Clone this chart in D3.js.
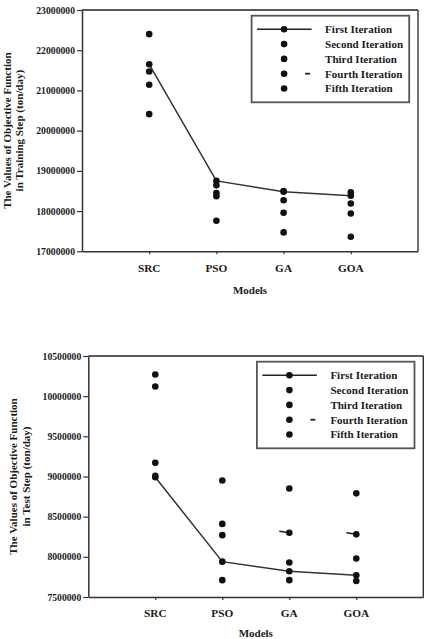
<!DOCTYPE html>
<html>
<head>
<meta charset="utf-8">
<script src="https://cdn.jsdelivr.net/npm/d3@7"></script>
<style>
  html, body { margin: 0; padding: 0; background: #fff; }
  svg { display: block; }
  text { font-family: "Liberation Serif", "Times New Roman", serif; font-weight: bold; fill: #1a1a1a; }
</style>
</head>
<body>
<svg id="chart" width="431" height="639"></svg>
<script>
// ---------- data ----------
const categories = ["SRC", "PSO", "GA", "GOA"];
const iterationNames = ["First Iteration", "Second Iteration", "Third Iteration", "Fourth Iteration", "Fifth Iteration"];

// Training step
const trainFirst  = [21650000, 18750000, 18480000, 18380000];
const trainSecond = [22400000, 18640000, 18500000, 18470000];
const trainThird  = [21470000, 18450000, 18270000, 18190000];
const trainFourth = [21140000, 18370000, 17960000, 17940000];
const trainFifth  = [20410000, 17760000, 17470000, 17360000];
const trainTicks  = [17000000, 18000000, 19000000, 20000000, 21000000, 22000000, 23000000];
const trainFourthDash = [false, false, false, false];

// Test step
const testFirst  = [8990000, 7940000, 7820000, 7770000];
const testSecond = [10270000, 8950000, 8850000, 8790000];
const testThird  = [10120000, 8410000, 7930000, 7980000];
const testFourth = [9170000, 8270000, 8300000, 8280000];
const testFifth  = [9010000, 7710000, 7710000, 7700000];
const testTicks  = [7500000, 8000000, 8500000, 9000000, 9500000, 10000000, 10500000];
const testFourthDash = [false, false, true, true];

const svg = d3.select("#chart");

function drawChart(cfg) {
  const { left, right, top, bottom, series, ticks, titleLines, titleX, fourthDash, catY, modelsY } = cfg;
  const g = svg.append("g");

  const x = d3.scalePoint().domain(categories).range([left, right]).padding(1);
  const y = d3.scaleLinear().domain([ticks[0], ticks[ticks.length - 1]]).range([bottom, top]);

  // frame top & right
  g.append("line").attr("x1", left).attr("x2", right).attr("y1", top).attr("y2", top)
    .attr("stroke", "#222").attr("stroke-width", 1.3);
  g.append("line").attr("x1", right).attr("x2", right).attr("y1", top).attr("y2", bottom)
    .attr("stroke", "#222").attr("stroke-width", 1.3);

  // y axis
  const ya = g.append("g").attr("transform", `translate(${left},0)`)
    .call(d3.axisLeft(y).tickValues(ticks).tickSize(5).tickSizeOuter(0).tickPadding(2).tickFormat(d3.format("d")));
  ya.select(".domain").attr("stroke", "#333").attr("stroke-width", 1.5);
  ya.selectAll(".tick line").attr("stroke", "#333").attr("stroke-width", 1.2);
  ya.selectAll(".tick text").style("font-size", "9.7px").attr("fill", "#1a1a1a");

  // x axis
  const xa = g.append("g").attr("transform", `translate(0,${bottom})`)
    .call(d3.axisBottom(x).tickSize(3).tickSizeOuter(0).tickFormat(""));
  xa.select(".domain").attr("stroke", "#333").attr("stroke-width", 1.5);
  xa.selectAll(".tick line").attr("stroke", "#333").attr("stroke-width", 1.2);

  // category labels
  g.selectAll(".cat").data(categories).enter().append("text")
    .attr("x", d => x(d)).attr("y", catY)
    .attr("text-anchor", "middle").style("font-size", "11.3px").text(d => d);

  // x title
  g.append("text").attr("x", (left + right) / 2).attr("y", modelsY)
    .attr("text-anchor", "middle").style("font-size", "11px").text("Models");

  // y title
  const cy = (top + bottom) / 2;
  titleLines.forEach((t, i) => {
    g.append("text")
      .attr("transform", `translate(${titleX[i]},${cy}) rotate(-90)`)
      .attr("text-anchor", "middle").attr("dy", "0.35em")
      .style("font-size", "11px").text(t);
  });

  // first iteration line
  const line = d3.line().x((d, i) => x(categories[i])).y(d => y(d));
  g.append("path").datum(series[0]).attr("d", line)
    .attr("fill", "none").attr("stroke", "#333").attr("stroke-width", 1.5);

  // fourth iteration dashes
  g.selectAll(".dash").data(series[3].map((v, i) => ({ v, i })).filter(d => fourthDash[d.i]))
    .enter().append("line")
    .attr("x1", d => x(categories[d.i]) - 10).attr("x2", d => x(categories[d.i]))
    .attr("y1", d => y(d.v) - 1.5).attr("y2", d => y(d.v))
    .attr("stroke", "#222").attr("stroke-width", 1.5);

  // dots
  series.forEach(s => {
    g.selectAll(null).data(s).enter().append("circle")
      .attr("cx", (d, i) => x(categories[i])).attr("cy", d => y(d))
      .attr("r", 3.3).attr("fill", "#111");
  });

  // legend
  const lw = 157.6, lh = 86.6;
  const lx = right - 8.8 - lw, ly = top + 5.7;
  const lg = g.append("g").attr("transform", `translate(${lx},${ly})`);
  lg.append("rect").attr("width", lw).attr("height", lh)
    .attr("fill", "#fff").attr("stroke", "#555").attr("stroke-width", 1.8);
  iterationNames.forEach((name, i) => {
    const ry = 13.6 + i * 14.8;
    if (i === 0) {
      lg.append("line").attr("x1", 5.5).attr("x2", 60).attr("y1", ry).attr("y2", ry)
        .attr("stroke", "#222").attr("stroke-width", 1.5);
    }
    if (i === 3) {
      lg.append("line").attr("x1", 53.5).attr("x2", 58.5).attr("y1", ry).attr("y2", ry)
        .attr("stroke", "#222").attr("stroke-width", 1.8);
    }
    lg.append("circle").attr("cx", 32.5).attr("cy", ry).attr("r", 3.3).attr("fill", "#111");
    lg.append("text").attr("x", 73.5).attr("y", ry).attr("dy", "0.35em")
      .style("font-size", "11px").text(name);
  });
}

drawChart({
  left: 82, right: 418, top: 10, bottom: 251.3,
  series: [trainFirst, trainSecond, trainThird, trainFourth, trainFifth],
  ticks: trainTicks,
  titleLines: ["The Values of Objective Function", "in Training Step (ton/day)"],
  titleX: [7, 19.5],
  fourthDash: trainFourthDash,
  catY: 272, modelsY: 294
});

drawChart({
  left: 88.3, right: 423.3, top: 356, bottom: 597,
  series: [testFirst, testSecond, testThird, testFourth, testFifth],
  ticks: testTicks,
  titleLines: ["The Values of Objective Function", "in Test Step (ton/day)"],
  titleX: [13, 26],
  fourthDash: testFourthDash,
  catY: 617, modelsY: 636.5
});
</script>
</body>
</html>
